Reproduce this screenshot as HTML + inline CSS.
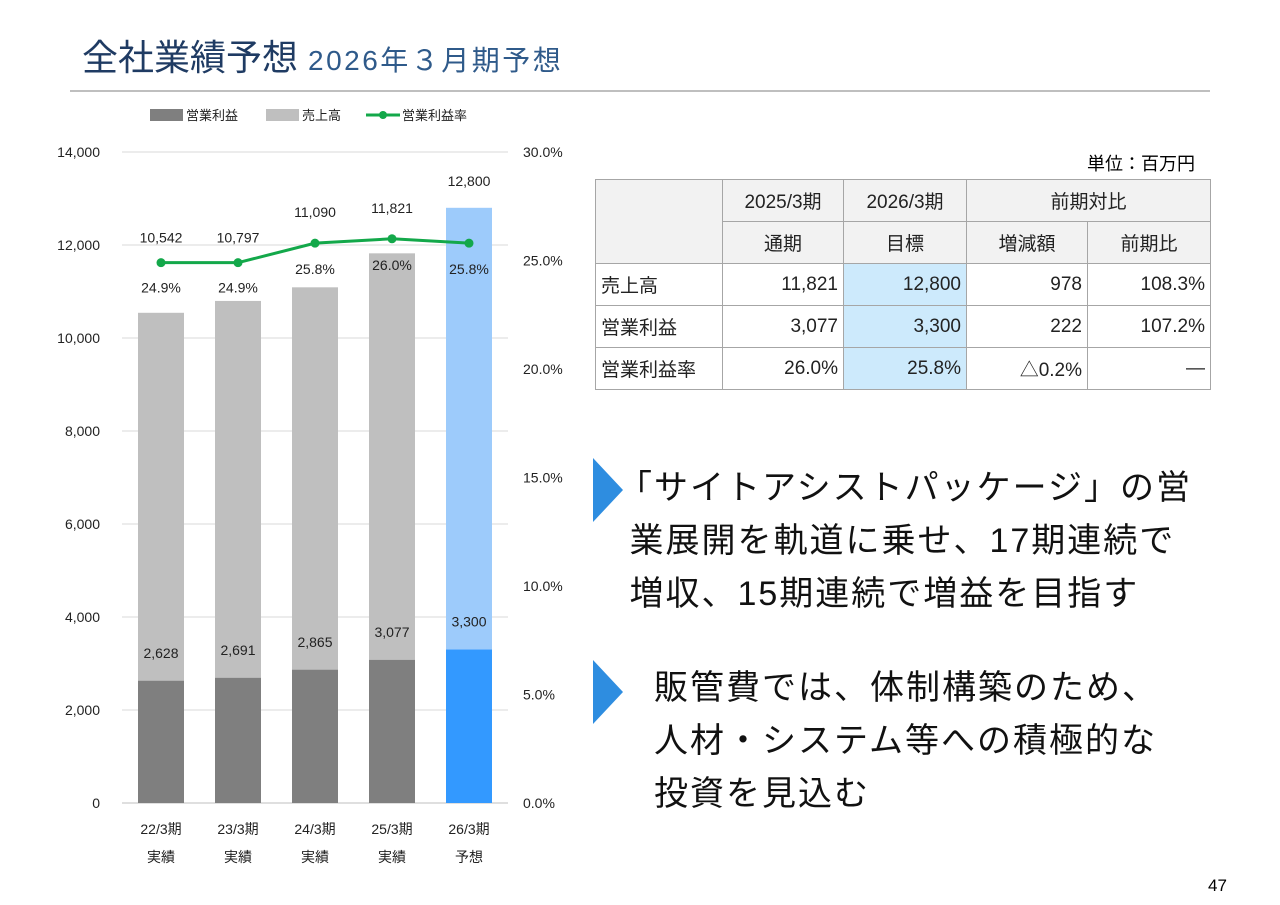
<!DOCTYPE html>
<html><head><meta charset="utf-8">
<style>
body{margin:0;width:1280px;height:905px;background:#fff;font-family:"Liberation Sans","Noto Sans CJK JP",sans-serif;position:relative;overflow:hidden}
.abs{position:absolute}
table{border-collapse:collapse;position:absolute;left:595px;top:179px;font-size:19px;color:#222}
td{border:1px solid #a6a6a6;height:41px;padding:0 5px}
.h{background:#f2f2f2;text-align:center}
.r{text-align:right}
.b{background:#cdeafc}
.txt{font-size:34px;color:#111;line-height:53px;letter-spacing:2px;white-space:nowrap}
</style></head><body>
<div class="abs" style="left:82px;top:29px;font-size:36px;color:#1f3b63;white-space:nowrap">全社業績予想 <span style="font-size:28px;color:#2f5a8a;letter-spacing:2.5px">2026年３月期予想</span></div>
<div class="abs" style="left:70px;top:90px;width:1140px;height:2px;background:#bfbfbf"></div>
<svg class="abs" style="left:0;top:0" width="590" height="905" id="chart"></svg>
<div class="abs" style="left:1087px;top:150px;font-size:18px">単位：百万円</div>
<table>
<tr><td class="h" rowspan="2" style="width:116px"></td><td class="h" style="width:110px">2025/3期</td><td class="h" style="width:112px">2026/3期</td><td class="h" colspan="2">前期対比</td></tr>
<tr><td class="h">通期</td><td class="h">目標</td><td class="h" style="width:110px">増減額</td><td class="h" style="width:112px">前期比</td></tr>
<tr><td>売上高</td><td class="r">11,821</td><td class="r b">12,800</td><td class="r">978</td><td class="r">108.3%</td></tr>
<tr><td>営業利益</td><td class="r">3,077</td><td class="r b">3,300</td><td class="r">222</td><td class="r">107.2%</td></tr>
<tr><td>営業利益率</td><td class="r">26.0%</td><td class="r b">25.8%</td><td class="r">△0.2%</td><td class="r">—</td></tr>
</table>
<svg class="abs" style="left:593px;top:458px" width="30" height="64"><polygon points="0,0 30,32 0,64" fill="#2e8de0"/></svg>
<div class="abs txt" style="left:618px;top:462px">「サイトアシストパッケージ」の営<br>&nbsp;業展開を軌道に乗せ、17期連続で<br>&nbsp;増収、15期連続で増益を目指す</div>
<svg class="abs" style="left:593px;top:660px" width="30" height="64"><polygon points="0,0 30,32 0,64" fill="#2e8de0"/></svg>
<div class="abs txt" style="left:654px;top:662px">販管費では、体制構築のため、<br>人材・システム等への積極的な<br>投資を見込む</div>
<div class="abs" style="left:1208px;top:876px;font-size:17px">47</div>
<script>
const categories=["22/3期","23/3期","24/3期","25/3期","26/3期"];
const subLabels=["実績","実績","実績","実績","予想"];
const sales=[10542,10797,11090,11821,12800];
const profit=[2628,2691,2865,3077,3300];
const margin=[24.9,24.9,25.8,26.0,25.8];
const leftTicks=[0,2000,4000,6000,8000,10000,12000,14000];
const rightTicks=[0,5,10,15,20,25,30];
const NS="http://www.w3.org/2000/svg";
const svg=document.getElementById('chart');
const y=v=>803-v/14000*651;
const yr=p=>803-p/30*651;
const x=i=>161+i*77;
function el(t,a,txt){const e=document.createElementNS(NS,t);for(const k in a)e.setAttribute(k,a[k]);if(txt!==undefined)e.textContent=txt;svg.appendChild(e);return e;}
leftTicks.forEach(v=>{
 const g=el('line',{x1:122,x2:508,y1:y(v),y2:y(v),stroke:v?'#d9d9d9':'#bfbfbf'});
 
 const t=el('text',{x:100,y:y(v)+5,'text-anchor':'end','font-size':14,fill:'#222'},v.toLocaleString('en-US'));
 
});
rightTicks.forEach(p=>{
 const t=el('text',{x:523,y:yr(p)+5,'font-size':14,fill:'#222'},p.toFixed(1)+'%');
 
});
categories.forEach((c,i)=>{
 const last=i===4;
 const s=el('rect',{x:x(i)-23,y:y(sales[i]),width:46,height:y(0)-y(sales[i]),fill:last?'#9dcbfb':'#bfbfbf'});
 
 const p=el('rect',{x:x(i)-23,y:y(profit[i]),width:46,height:y(0)-y(profit[i]),fill:last?'#3399ff':'#7f7f7f'});
 
 let ly;
 if(i<2) ly=yr(margin[i])-20; else if(last) ly=y(sales[i])-22; else ly=yr(margin[i])-26;
 const a=el('text',{x:x(i),y:ly,'text-anchor':'middle','font-size':14,fill:'#222'},sales[i].toLocaleString('en-US'));
 
 const b=el('text',{x:x(i),y:y(profit[i])-23,'text-anchor':'middle','font-size':14,fill:'#222'},profit[i].toLocaleString('en-US'));
 
 const m=el('text',{x:x(i),y:yr(margin[i])+(i<2?30:31),'text-anchor':'middle','font-size':14,fill:'#222'},margin[i].toFixed(1)+'%');
 
 const c1=el('text',{x:x(i),y:834,'text-anchor':'middle','font-size':14,fill:'#222'},c);
 
 const c2=el('text',{x:x(i),y:862,'text-anchor':'middle','font-size':14,fill:'#222'},subLabels[i]);
 
});
const line=el('polyline',{points:margin.map((m,i)=>x(i)+','+yr(m)).join(' '),fill:'none',stroke:'#13a84a','stroke-width':3});

margin.forEach((m,i)=>{const d=el('circle',{cx:x(i),cy:yr(m),r:4.5,fill:'#13a84a'});
 });
const lg=[[150,'rect','#7f7f7f','営業利益'],[266,'rect','#bfbfbf','売上高'],[366,'line','#13a84a','営業利益率']];
lg.forEach(l=>{
 if(l[1]==='rect'){const r=el('rect',{x:l[0],y:109,width:33,height:12,fill:l[2]});}
 else{const r=el('line',{x1:l[0],x2:l[0]+34,y1:115,y2:115,stroke:l[2],'stroke-width':3});
  const c=el('circle',{cx:l[0]+17,cy:115,r:4,fill:l[2]});}
 const t=el('text',{x:l[0]+36,y:120,'font-size':13,fill:'#222'},l[3]);
 
});
</script>
</body></html>
